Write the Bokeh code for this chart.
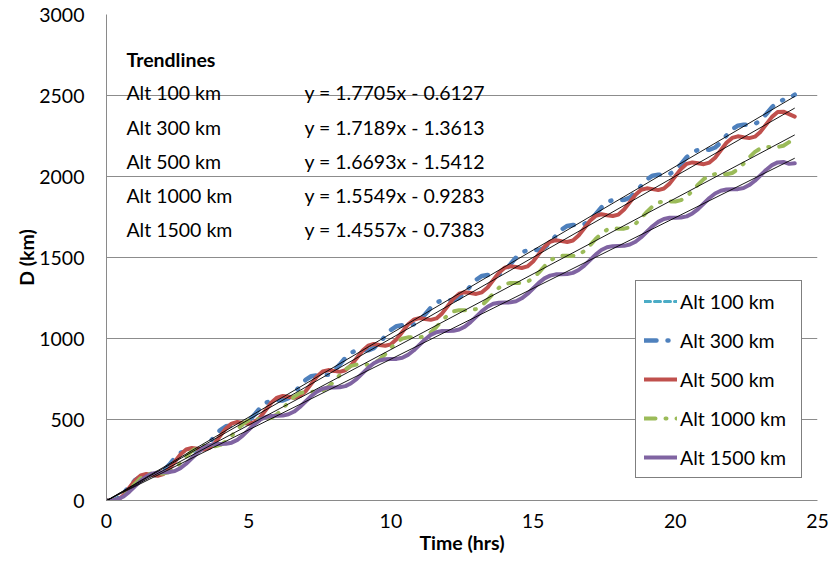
from bokeh.plotting import figure
from bokeh.models import (Range1d, SingleIntervalTicker, Label, Legend, LegendItem,
                          ColumnDataSource)
from bokeh.embed import file_html
from bokeh.resources import INLINE

# ---------------- data ----------------
hours = [round(0.2 * k, 1) for k in range(122)]   # sampling times (hrs)

d100 = []  # Alt 100 km: listed in legend, no visible data in the chart

d300 = [0, 0, 13, 45, 87, 125, 148, 154, 153, 159,
        182, 220, 262, 294, 308, 308, 309, 322, 354, 396,
        435, 458, 463, 462, 468, 491, 529, 572, 603, 617,
        618, 618, 632, 663, 706, 744, 767, 773, 772, 777,
        800, 839, 881, 913, 926, 927, 927, 941, 973, 1015,
        1053, 1076, 1082, 1081, 1087, 1110, 1148, 1190, 1222, 1236,
        1236, 1237, 1251, 1282, 1324, 1363, 1386, 1392, 1390, 1396,
        1419, 1458, 1500, 1531, 1545, 1546, 1546, 1560, 1592, 1634,
        1672, 1695, 1701, 1700, 1706, 1729, 1767, 1809, 1841, 1855,
        1855, 1856, 1869, 1901, 1943, 1982, 2005, 2011, 2009, 2015,
        2038, 2076, 2119, 2150, 2164, 2165, 2165, 2179, 2210, 2253,
        2291, 2314, 2320, 2319, 2324, 2347, 2386, 2428, 2460, 2473,
        2485, 2505]

d500 = [0, 0, 3, 33, 79, 124, 155, 164, 159, 153,
        163, 193, 239, 284, 315, 324, 319, 314, 323, 354,
        399, 445, 475, 485, 479, 474, 483, 514, 559, 605,
        635, 645, 640, 634, 644, 674, 720, 765, 796, 805,
        800, 794, 804, 834, 880, 925, 956, 966, 960, 955,
        964, 995, 1040, 1086, 1116, 1126, 1120, 1115, 1124, 1155,
        1200, 1246, 1276, 1286, 1281, 1275, 1285, 1315, 1361, 1406,
        1437, 1446, 1441, 1435, 1445, 1475, 1521, 1566, 1597, 1607,
        1601, 1596, 1605, 1636, 1681, 1727, 1757, 1767, 1761, 1756,
        1765, 1796, 1841, 1887, 1918, 1927, 1922, 1916, 1926, 1956,
        2002, 2047, 2078, 2087, 2082, 2076, 2086, 2116, 2162, 2208,
        2238, 2248, 2242, 2237, 2246, 2277, 2322, 2368, 2398, 2400,
        2385, 2370]

d1000 = [0, 0, 7, 29, 63, 103, 137, 159, 168, 167,
         166, 175, 197, 231, 271, 305, 327, 336, 335, 334,
         343, 365, 399, 439, 473, 495, 504, 503, 502, 511,
         533, 567, 607, 641, 663, 671, 671, 670, 679, 701,
         735, 774, 809, 831, 839, 839, 838, 847, 869, 903,
         942, 977, 999, 1007, 1007, 1006, 1015, 1037, 1071, 1110,
         1145, 1167, 1175, 1175, 1174, 1182, 1205, 1239, 1278, 1313,
         1335, 1343, 1343, 1342, 1350, 1373, 1407, 1446, 1481, 1503,
         1511, 1511, 1510, 1518, 1540, 1575, 1614, 1648, 1671, 1679,
         1678, 1678, 1686, 1708, 1743, 1782, 1816, 1839, 1847, 1846,
         1846, 1854, 1876, 1911, 1950, 1984, 2006, 2015, 2014, 2014,
         2022, 2044, 2079, 2118, 2152, 2174, 2183, 2182, 2182, 2190,
         2212, 2255]

d1500 = [0, 0, 8, 25, 53, 87, 121, 148, 166, 173,
         174, 175, 182, 200, 227, 261, 295, 323, 340, 348,
         349, 350, 357, 374, 402, 436, 470, 498, 515, 522,
         523, 524, 532, 549, 577, 611, 645, 672, 690, 697,
         698, 699, 706, 724, 751, 785, 819, 847, 864, 872,
         873, 874, 881, 899, 926, 960, 994, 1022, 1039, 1046,
         1047, 1048, 1056, 1073, 1101, 1135, 1169, 1196, 1214, 1221,
         1222, 1223, 1230, 1248, 1275, 1309, 1343, 1371, 1388, 1396,
         1397, 1398, 1405, 1423, 1450, 1484, 1518, 1546, 1563, 1570,
         1571, 1572, 1580, 1597, 1625, 1659, 1693, 1720, 1738, 1745,
         1746, 1747, 1754, 1772, 1799, 1833, 1867, 1895, 1912, 1920,
         1921, 1922, 1929, 1947, 1974, 2008, 2042, 2070, 2087, 2090,
         2078, 2082]

series_names = ["Alt 100 km", "Alt 300 km", "Alt 500 km", "Alt 1000 km", "Alt 1500 km"]
series_data = [d100, d300, d500, d1000, d1500]

# trendline equations as printed (x in minutes)
trend_slopes = [1.7705, 1.7189, 1.6693, 1.5549, 1.4557]
trend_intercepts = [-0.6127, -1.3613, -1.5412, -0.9283, -0.7383]
trend_texts = ["y = 1.7705x - 0.6127", "y = 1.7189x - 1.3613", "y = 1.6693x - 1.5412",
               "y = 1.5549x - 0.9283", "y = 1.4557x - 0.7383"]
trend_shown = [False, True, True, True, True]

x_ticks_interval = 5
y_ticks_interval = 500

# ---------------- styles ----------------
FONT = "Lato"
FS = "19.5px"
colors = ["#4BACC6", "#4F81BD", "#C0504D", "#9BBB59", "#8064A2"]
dashes = ["6 4", "12 11 1 11", "solid", "11 10 1 10", "solid"]
widths = [3, 4.5, 4, 4, 4]

p = figure(width=830, height=564, output_backend="svg", toolbar_location=None,
           x_range=Range1d(0, 25), y_range=Range1d(0, 3000),
           min_border_left=106, min_border_right=13, min_border_top=14,
           min_border_bottom=64)
p.background_fill_color = "white"
p.border_fill_color = "white"
p.outline_line_color = None

p.xaxis.ticker = SingleIntervalTicker(interval=x_ticks_interval)
p.yaxis.ticker = SingleIntervalTicker(interval=y_ticks_interval)
for ax in (p.xaxis, p.yaxis):
    ax.axis_line_color = "#8a8a8a"
    ax.axis_line_width = 1
    ax.major_tick_line_color = None
    ax.minor_tick_line_color = None
    ax.major_tick_out = 0
    ax.major_tick_in = 0
    ax.minor_tick_out = 0
    ax.minor_tick_in = 0
    ax.major_label_text_font = FONT
    ax.major_label_text_font_size = FS
    ax.major_label_text_color = "black"
    ax.axis_label_text_font = FONT
    ax.axis_label_text_font_size = FS
    ax.axis_label_text_font_style = "bold"
    ax.axis_label_text_color = "black"
p.yaxis.major_label_standoff = 22
p.xaxis.major_label_standoff = 13
p.xaxis.axis_label = "Time (hrs)"
p.xaxis.axis_label_standoff = 0
p.yaxis.axis_label = "D (km)"
p.yaxis.axis_label_standoff = -2

p.xgrid.visible = False
p.ygrid.grid_line_color = "#8c8c8c"
p.ygrid.grid_line_width = 1

renderers = []
for name, data, c, d, w in zip(series_names, series_data, colors, dashes, widths):
    if len(data) == 0:
        src = ColumnDataSource(dict(x=[float("nan")], y=[float("nan")]))
    else:
        src = ColumnDataSource(dict(x=hours[:len(data)], y=data))
    r = p.line("x", "y", source=src, line_color=c, line_width=w, line_dash=d,
               line_cap="round", line_join="round")
    renderers.append(r)

t_end = hours[-1]
for m, c0, show in zip(trend_slopes, trend_intercepts, trend_shown):
    if not show:
        continue
    xs = [0, t_end]
    ys = [c0, m * 60 * t_end + c0]
    p.line(xs, ys, line_color="black", line_width=1, line_alpha=0.9)

# trendline text block
p.add_layout(Label(x=0.7, y=2722, text="Trendlines", text_font=FONT,
                   text_font_size=FS, text_font_style="bold",
                   text_baseline="alphabetic", text_color="black"))
row_y = [2519, 2302, 2093, 1883, 1673]
for name, txt, yy in zip(series_names, trend_texts, row_y):
    p.add_layout(Label(x=0.7, y=yy, text=name, text_font=FONT, text_font_size=FS,
                       text_baseline="alphabetic", text_color="black"))
    p.add_layout(Label(x=6.96, y=yy, text=txt, text_font=FONT, text_font_size=FS,
                       text_baseline="alphabetic", text_color="black"))

legend = Legend(items=[LegendItem(label=n, renderers=[r]) for n, r in zip(series_names, renderers)],
                location=(529, 22))
legend.margin = 0
legend.padding = 8
legend.spacing = 15
legend.glyph_width = 33
legend.glyph_height = 24
legend.label_height = 24
legend.label_width = 113
legend.label_standoff = 3
legend.label_text_font = FONT
legend.label_text_font_size = FS
legend.label_text_color = "black"
legend.border_line_color = "black"
legend.border_line_width = 1
legend.background_fill_color = "white"
legend.background_fill_alpha = 1
p.add_layout(legend)

open("out.html", "w").write(file_html(p, INLINE))
